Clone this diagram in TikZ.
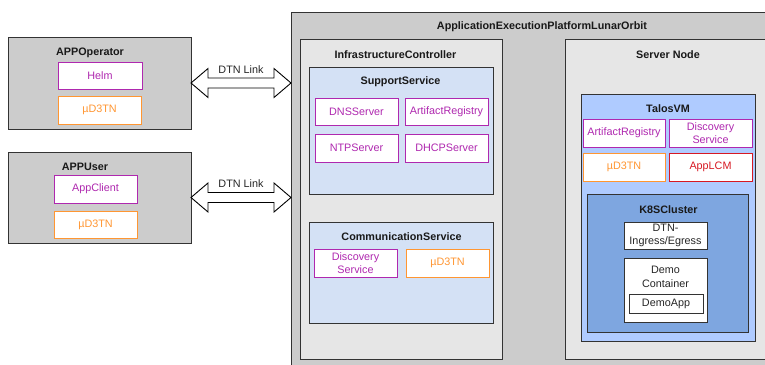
\documentclass[tikz,border=0pt]{standalone}
\usepackage{fontspec}
\setmainfont{Liberation Sans}
\usetikzlibrary{calc}
\definecolor{mypurple}{RGB}{175,40,175}
\definecolor{myorange}{RGB}{255,150,50}
\definecolor{myred}{RGB}{215,25,35}
\definecolor{gbox}{HTML}{CCCCCC}
\definecolor{lbox}{HTML}{E6E6E6}
\definecolor{svc}{HTML}{D4E1F5}
\definecolor{talos}{HTML}{AFCBFF}
\definecolor{k8s}{HTML}{7EA6E0}
\definecolor{edge}{HTML}{333333}
\tikzset{
  container/.style={draw=edge, line width=0.9pt, anchor=north west, inner sep=0pt, outer sep=0pt},
  item/.style={draw, fill=white, anchor=north west, align=center, inner sep=0pt, outer sep=0pt, line width=0.9pt,
     font=\fontsize{10.8}{12.5}\selectfont},
  purp/.style={item, draw=mypurple, text=mypurple},
  orng/.style={item, draw=myorange, text=myorange},
  redd/.style={item, draw=myred, text=myred},
  blk/.style={item, draw=edge, text=black!85},
  ttl/.style={font=\fontsize{10.8}{12}\selectfont\bfseries, text=black!90, inner sep=0pt},
  lbl/.style={font=\fontsize{10.8}{12}\selectfont, text=black!85, inner sep=0pt},
  dtnarrow/.style={draw=black, fill=white, line width=0.9pt, line join=miter},
}
\begin{document}
\begin{tikzpicture}[x=1pt,y=-1pt]
\useasboundingbox (0,0) rectangle (765,364);
\clip (0,0) rectangle (765,364);
\fill[white] (0,0) rectangle (765,364);

% left boxes
\node[container, fill=gbox, minimum width=183, minimum height=92] (op) at (8,37) {};
\node[ttl] (opt) at (90,53) {APPOperator};
\node[purp, minimum width=84, minimum height=27] (helm) at (58,62) {Helm};
\node[orng, minimum width=83, minimum height=28] (opd) at (58,96) {µD3TN};

\node[container, fill=gbox, minimum width=183, minimum height=91] (us) at (8,152) {};
\node[ttl] (ust) at (85,167) {APPUser};
\node[purp, minimum width=83, minimum height=28] (cli) at (54,175) {AppClient};
\node[orng, minimum width=83, minimum height=27] (usd) at (54,211) {µD3TN};

% platform
\node[container, fill=gbox, minimum width=520, minimum height=370] (plat) at (291,12) {};
\node[ttl] (platt) at (542,27) {ApplicationExecutionPlatformLunarOrbit};

% infrastructure controller
\node[container, fill=lbox, minimum width=202, minimum height=320] (ic) at (300,39) {};
\node[ttl] (ict) at (395.5,55) {InfrastructureController};
\node[container, fill=svc, minimum width=184, minimum height=127] (ss) at (309,67) {};
\node[ttl] (sst) at (400.5,82) {SupportService};
\node[purp, minimum width=83, minimum height=27] (dns) at (315,98) {DNSServer};
\node[purp, minimum width=83, minimum height=27] (ar1) at (405,98) {ArtifactRegistry};
\node[purp, minimum width=83, minimum height=28] (ntp) at (315,134) {NTPServer};
\node[purp, minimum width=83, minimum height=28] (dhcp) at (405,134) {DHCPServer};

\node[container, fill=svc, minimum width=184, minimum height=101] (cs) at (309,222) {};
\node[ttl] (cst) at (401.5,237) {CommunicationService};
\node[purp, minimum width=83, minimum height=28] (ds1) at (314,249) {Discovery\\Service};
\node[orng, minimum width=83, minimum height=28] (csd) at (406,249) {µD3TN};

% server node
\node[container, fill=lbox, minimum width=240, minimum height=320] (sn) at (565,39) {};
\node[ttl] (snt) at (668,55) {Server Node};
\node[container, fill=talos, minimum width=174, minimum height=247] (tv) at (581,94) {};
\node[ttl] (tvt) at (668,109) {TalosVM};
\node[purp, minimum width=82, minimum height=28] (ar2) at (583,119) {ArtifactRegistry};
\node[purp, minimum width=83, minimum height=28] (ds2) at (669,119) {Discovery\\Service};
\node[orng, minimum width=82, minimum height=28] (tvd) at (583,153) {µD3TN};
\node[redd, minimum width=83, minimum height=28] (lcm) at (669,153) {AppLCM};

\node[container, fill=k8s, minimum width=161, minimum height=138] (k8) at (587,194) {};
\node[ttl] (k8t) at (668.5,210) {K8SCluster};
\node[blk, minimum width=83, minimum height=27] (ing) at (624,222) {DTN-\\Ingress/Egress};
\node[blk, minimum width=83, minimum height=64] (dc) at (624,258) {};
\node[lbl, align=center, font=\fontsize{10.8}{14}\selectfont] (dct) at (665.5,277) {Demo\\Container};
\node[blk, minimum width=74, minimum height=19] (dapp) at (629,294) {DemoApp};

% DTN link arrows
\foreach \src/\nm in {op/a1, us/a2}{
  \coordinate (\nm l) at (\src.east);
  \coordinate (\nm r) at (plat.west |- \src.east);
  \draw[dtnarrow] (\nm l) -- ($(\nm l)+(17,-14.5)$) -- ($(\nm l)+(17,-5)$) -- ($(\nm r)+(-17,-5)$)
     -- ($(\nm r)+(-17,-14.5)$) -- (\nm r) -- ($(\nm r)+(-17,14.5)$) -- ($(\nm r)+(-17,5)$)
     -- ($(\nm l)+(17,5)$) -- ($(\nm l)+(17,14.5)$) -- cycle;
  \node[lbl] (\nm t) at ($(\nm l)!0.5!(\nm r)+(0,-13.5)$) {DTN Link};
}
\end{tikzpicture}
\end{document}
